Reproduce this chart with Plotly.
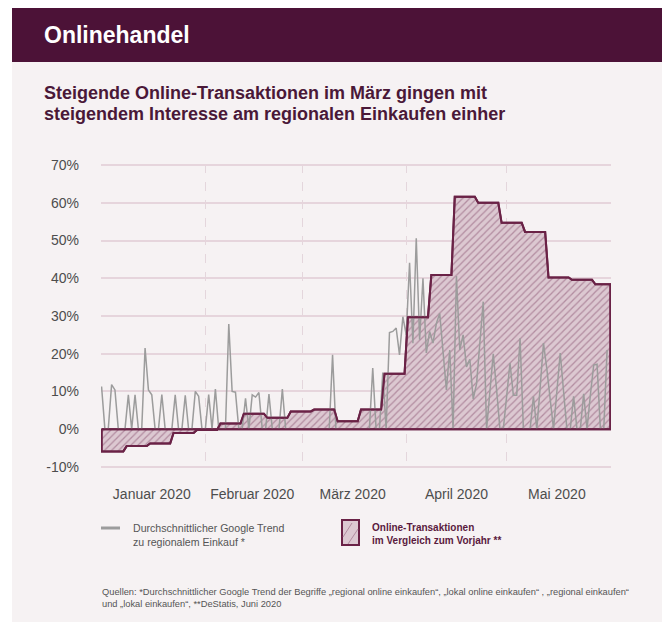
import plotly.graph_objects as go
import pandas as pd

# ---------------- data ----------------
week_starts = pd.date_range("2020-01-01", periods=22, freq="7D")
transactions = [-5.9, -4.5, -3.8, -1.0, -0.2, 1.5, 4.1, 3.0, 4.7, 5.2, 2.1,
                5.2, 14.7, 29.7, 40.9, 61.6, 60.0, 54.7, 52.3, 40.2, 39.6, 38.4]
period_end = "2020-06-01"

days = pd.date_range("2020-01-01", "2020-05-31", freq="D")
trend_jan = [11.3, 0, 0, 11.8, 10.4, 0, 0, 0, 9.1, 0,
             9.1, 0, 0, 21.5, 10.4, 9.1, 0, 0, 9.2, 0,
             0, 0, 9.1, 0, 0, 9.0, 0, 0, 10.0, 8.7, 0]
trend_feb = [0, 9.2, 0, 10.6, 0, 0, 0, 27.9, 10.0, 9.8,
             0, 0, 8.2, 0, 9.1, 8.5, 9.7, 0, 0, 9.3,
             0, 0, 0, 10.6, 0, 0, 0, 0, 0]
trend_mar = [0, 0, 0, 0, 0, 0, 0, 0, 0, 19.7,
             0, 0, 0, 0, 0, 0, 0, 0, 0, 0,
             0, 16.2, 0, 0, 15.0, 0, 25.6, 25.9, 26.8, 19.7, 29.8]
trend_apr = [25.0, 44.1, 22.8, 50.6, 23.7, 40.0, 20.2, 25.9, 22.8, 28.0,
             30.7, 20.2, 10.4, 21.0, 0, 40.6, 21.0, 25.0, 16.5, 18.5,
             8.0, 12.0, 22.0, 33.8, 0, 10.0, 20.0, 10.4, 0, 0]
trend_may = [8.0, 17.5, 9.0, 9.0, 24.1, 0, 0, 0, 8.7, 0,
             11.0, 22.8, 16.0, 8.0, 0, 10.0, 20.2, 10.0, 0, 0,
             8.7, 0, 0, 9.4, 0, 9.0, 17.0, 17.2, 0, 0, 21.0]
google_trend = trend_jan + trend_feb + trend_mar + trend_apr + trend_may

month_ticks = ["2020-01-16", "2020-02-15", "2020-03-16", "2020-04-16", "2020-05-16"]
month_labels = ["Januar 2020", "Februar 2020", "März 2020", "April 2020", "Mai 2020"]
month_starts = ["2020-02-01", "2020-03-01", "2020-04-01", "2020-05-01"]
y_ticks = [-10, 0, 10, 20, 30, 40, 50, 60, 70]
y_labels = ["-10%", "0%", "10%", "20%", "30%", "40%", "50%", "60%", "70%"]

# ---------------- styles ----------------
MAROON = "#6a2246"
HEADER = "#4c1237"
CARD = "#f6f2f3"
GRID = "#e6d5dc"
VGRID = "#e4d6dc"
FILL_BG = "#dcc8d1"
FILL_FG = "#b28ca0"
GRAY = "#9c9c9c"
TEXT = "#4d4d4d"
FONT = "Liberation Sans, Arial, sans-serif"

# page body adds an 8px margin; figure is sized so it fills the window
OFF = 8
W, H = 662, 614
L, R, T, B = 93, 59, 156, 154
PW, PH = W - L - R, H - T - B


def xp(sx):
    """screen x (window px) -> paper"""
    return (sx - OFF - L) / PW


def yp(sy):
    """screen y (window px) -> paper"""
    return (H - B - (sy - OFF)) / PH


# step polygon for weekly transactions
half = pd.Timedelta(hours=12)
xs = [week_starts[0]]
ys = [0]
n = len(transactions)
for i, v in enumerate(transactions):
    start = week_starts[i] + (half if i > 0 else pd.Timedelta(0))
    end = week_starts[i + 1] - half if i < n - 1 else pd.Timestamp(period_end)
    xs += [start, end]
    ys += [v, v]
xs += [pd.Timestamp(period_end), week_starts[0]]
ys += [0, 0]

fig = go.Figure()
fig.add_trace(go.Scatter(
    x=xs, y=ys, mode="lines", fill="toself",
    line=dict(color=MAROON, width=2),
    fillpattern=dict(shape="/", bgcolor=FILL_BG, fgcolor=FILL_FG, size=5,
                     solidity=0.25, fillmode="replace"),
    showlegend=False, hoverinfo="skip"))
fig.add_trace(go.Scatter(
    x=days, y=google_trend, mode="lines",
    line=dict(color=GRAY, width=1.5),
    showlegend=False, hoverinfo="skip"))
fig.add_trace(go.Scatter(
    x=xs, y=ys, mode="lines",
    line=dict(color=MAROON, width=2),
    showlegend=False, hoverinfo="skip"))

shapes = [
    # white outer margin on the left
    dict(type="rect", xref="paper", yref="paper", x0=xp(OFF), x1=xp(12), y0=yp(630), y1=yp(OFF),
         fillcolor="white", line=dict(width=0), layer="below"),
    # header band
    dict(type="rect", xref="paper", yref="paper", x0=xp(12), x1=xp(680), y0=yp(62), y1=yp(OFF),
         fillcolor=HEADER, line=dict(width=0), layer="below"),
    # legend: gray line sample
    dict(type="line", xref="paper", yref="paper", x0=xp(101), x1=xp(120), y0=yp(528), y1=yp(528),
         line=dict(color=GRAY, width=3)),
    # legend: hatched box
    dict(type="rect", xref="paper", yref="paper", x0=xp(342), x1=xp(359), y0=yp(545), y1=yp(520),
         fillcolor=FILL_BG, line=dict(color=MAROON, width=2)),
    dict(type="line", xref="paper", yref="paper", x0=xp(343), x1=xp(352), y0=yp(537), y1=yp(523),
         line=dict(color=FILL_FG, width=1)),
    dict(type="line", xref="paper", yref="paper", x0=xp(348), x1=xp(358), y0=yp(544), y1=yp(529),
         line=dict(color=FILL_FG, width=1)),
]

annotations = [
    dict(text="<b>Onlinehandel</b>", x=xp(42), y=yp(35), xref="paper", yref="paper",
         xanchor="left", yanchor="middle", showarrow=False,
         font=dict(family=FONT, size=23, color="white")),
    dict(text="<b>Steigende Online-Transaktionen im März gingen mit</b>",
         x=xp(42), y=yp(93), xref="paper", yref="paper", xanchor="left", yanchor="middle",
         showarrow=False, font=dict(family=FONT, size=18, color="#4a1838")),
    dict(text="<b>steigendem Interesse am regionalen Einkaufen einher</b>",
         x=xp(42), y=yp(114), xref="paper", yref="paper", xanchor="left", yanchor="middle",
         showarrow=False, font=dict(family=FONT, size=18, color="#4a1838")),
    dict(text="Durchschnittlicher Google Trend<br>zu regionalem Einkauf *",
         x=xp(131), y=yp(520), xref="paper", yref="paper", xanchor="left", yanchor="top",
         align="left", showarrow=False, font=dict(family=FONT, size=10.6, color="#555555")),
    dict(text="<b>Online-Transaktionen<br>im Vergleich zum Vorjahr **</b>",
         x=xp(370), y=yp(520), xref="paper", yref="paper", xanchor="left", yanchor="top",
         align="left", showarrow=False, font=dict(family=FONT, size=10, color="#5a1a3e")),
    dict(text="Quellen: *Durchschnittlicher Google Trend der Begriffe „regional online einkaufen“, "
              "„lokal online einkaufen“ , „regional einkaufen“<br>"
              "und „lokal einkaufen“, **DeStatis, Juni 2020",
         x=xp(100), y=yp(585), xref="paper", yref="paper", xanchor="left", yanchor="top",
         align="left", showarrow=False, font=dict(family=FONT, size=9.3, color="#555555")),
]

fig.update_layout(
    width=W, height=H,
    margin=dict(l=L, r=R, t=T, b=B, pad=0),
    paper_bgcolor=CARD, plot_bgcolor=CARD,
    shapes=shapes, annotations=annotations,
    showlegend=False,
    xaxis=dict(
        type="date", range=["2019-12-31 20:00", "2020-06-01 04:00"],
        tickmode="array", tickvals=month_ticks, ticktext=month_labels,
        showgrid=False, zeroline=False, showline=False, ticks="",
        ticklabelstandoff=16,
        tickfont=dict(family=FONT, size=14, color=TEXT),
        minor=dict(tickmode="array", tickvals=month_starts, showgrid=True,
                   gridcolor=VGRID, griddash="dash", gridwidth=1, ticks=""),
    ),
    yaxis=dict(
        range=[-10.3, 70.3], tickmode="array", tickvals=y_ticks, ticktext=y_labels,
        showgrid=True, gridcolor=GRID, gridwidth=1.5, zeroline=False, showline=False,
        ticks="", ticklabelstandoff=21,
        tickfont=dict(family=FONT, size=14, color=TEXT),
    ),
)

fig.write_html("out.html")
